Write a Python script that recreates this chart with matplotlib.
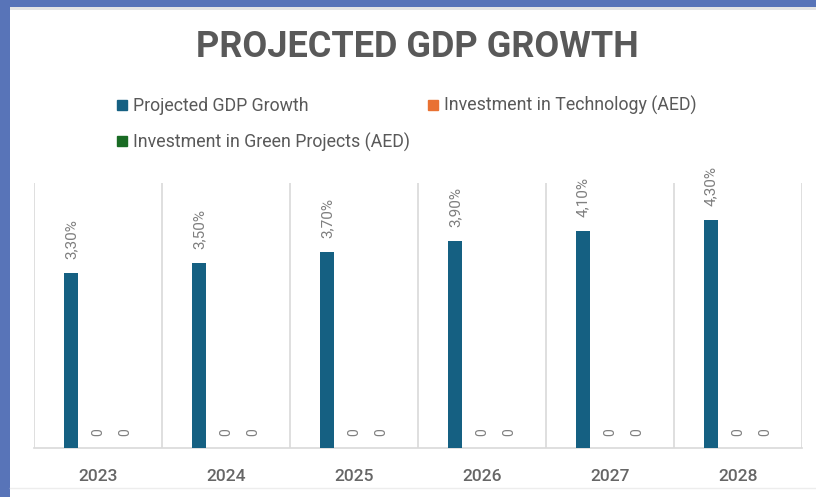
import matplotlib

matplotlib.use("Agg")
import matplotlib.pyplot as plt
import numpy as np
from matplotlib.lines import Line2D
from matplotlib.patches import Rectangle

years = ["2023", "2024", "2025", "2026", "2027", "2028"]
gdp_growth = [3.3, 3.5, 3.7, 3.9, 4.1, 4.3]
tech_invest = [0, 0, 0, 0, 0, 0]
green_invest = [0, 0, 0, 0, 0, 0]

SERIES = [
    ("Projected GDP Growth", gdp_growth, "#156082"),
    ("Investment in Technology (AED)", tech_invest, "#E97132"),
    ("Investment in Green Projects (AED)", green_invest, "#196B24"),
]
OFFSETS = [-0.21, 0.0, 0.21]
BAR_W = 0.105
LABEL_GREY = "#7f7f7f"

plt.rcParams["font.family"] = ["Roboto", "DejaVu Sans"]

fig = plt.figure(figsize=(8.16, 4.97), dpi=100)
fig.patch.set_facecolor("#5874b8")

# white card with a thin shadow along its top edge
fig.patches.append(Rectangle((10 / 816, 0), 1, 1 - 7 / 497, transform=fig.transFigure,
                             facecolor="white", edgecolor="none", zorder=-2))
fig.patches.append(Rectangle((10 / 816, 1 - 10 / 497), 1, 3 / 497, transform=fig.transFigure,
                             facecolor="#e4e4e4", edgecolor="none", zorder=-1))
fig.add_artist(Line2D([10 / 816, 1], [1 - 488 / 497] * 2, transform=fig.transFigure,
                      color="#ededed", lw=1, zorder=-1))

ax = fig.add_axes([34 / 816, 1 - 448 / 497, 768 / 816, 265 / 497])
ax.set_zorder(2)
ax.set_facecolor("none")

x = np.arange(len(years))
for (name, vals, color), off in zip(SERIES, OFFSETS):
    ax.bar(x + off, vals, width=BAR_W, color=color, label=name, zorder=3)
    for xi, v in zip(x + off, vals):
        if name == "Projected GDP Growth":
            txt = f"{v:.2f}%".replace(".", ",")
            ax.annotate(txt, (xi, v), xytext=(0, 10), textcoords="offset points",
                        rotation=90, ha="center", va="bottom", fontsize=11,
                        color=LABEL_GREY)
        else:
            ax.annotate(f"{v:g}", (xi, v), xytext=(0, 9), textcoords="offset points",
                        rotation=90, ha="center", va="bottom", fontsize=10,
                        color=LABEL_GREY)

ax.set_xlim(-0.5, len(years) - 0.5)
ax.set_ylim(0, 5)
ax.set_yticks([])
ax.set_xticks(x)
ax.set_xticklabels(years, fontsize=12.5, fontweight="medium", color="#666666")
ax.tick_params(axis="x", length=0, pad=15)

for b in np.arange(-0.5, len(years), 1.0):
    ax.axvline(b, color="#d9d9d9", lw=1.2, zorder=1)
for side in ["top", "left", "right"]:
    ax.spines[side].set_visible(False)
ax.spines["bottom"].set_color("#d9d9d9")
ax.spines["bottom"].set_linewidth(1.2)

fig.text(0.512, 1 - 47 / 497, "PROJECTED GDP GROWTH", ha="center", va="center",
         fontsize=26, fontweight="bold", color="#595959")

# square legend keys, GDP and green in the first column, technology in the second
order = [0, 2, 1]
keys = [Line2D([], [], ls="", marker="s", markersize=7.5, color=SERIES[i][2]) for i in order]
labels = [SERIES[i][0] for i in order]
leg = fig.legend(keys, labels, ncol=2, loc="upper left",
                 bbox_to_anchor=(101 / 816, 1 - 80 / 497), frameon=False, fontsize=12.8,
                 handlelength=0.6, handletextpad=0.3,
                 columnspacing=1.0, labelspacing=1.0, labelcolor="#595959")
leg.set_zorder(3)

fig.savefig("out.png", dpi=100, facecolor=fig.get_facecolor())
